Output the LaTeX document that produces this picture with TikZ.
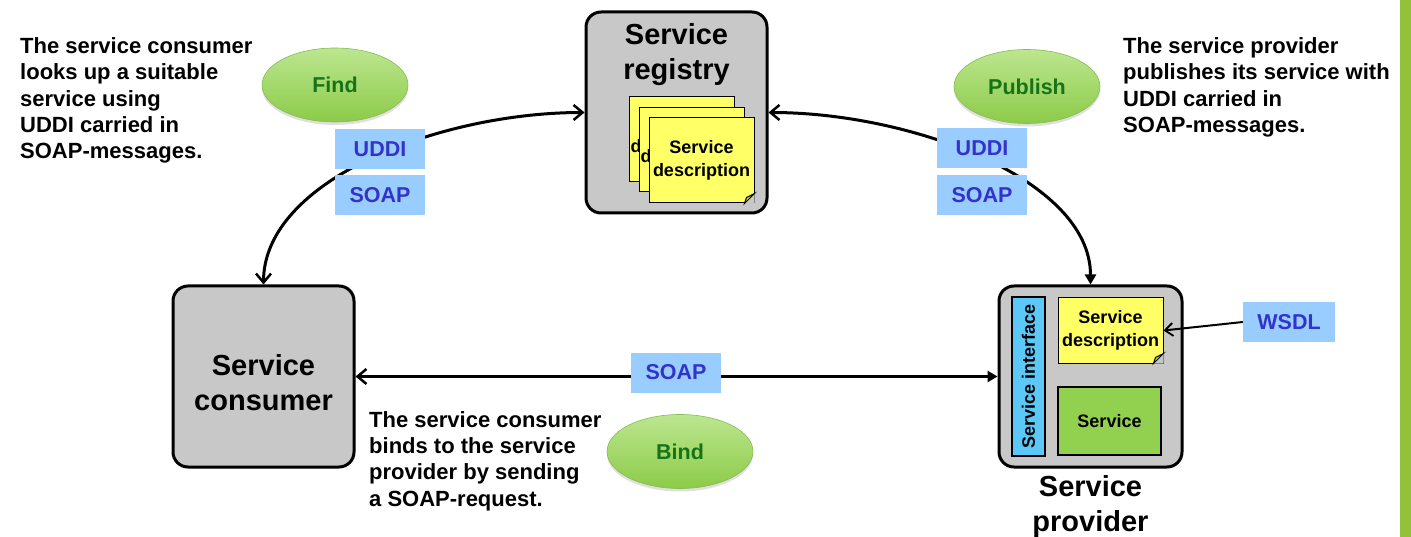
\documentclass[tikz,border=0pt]{standalone}
\usepackage{fontspec}
\setmainfont{Liberation Sans}
\usetikzlibrary{arrows.meta,shadows,shapes.geometric,calc}
\definecolor{boxgray}{HTML}{C8C8C8}
\definecolor{lblue}{HTML}{99CCFF}
\definecolor{tblue}{HTML}{3333CC}
\definecolor{noteyel}{HTML}{FFFF66}
\definecolor{foldyel}{HTML}{D8D840}
\definecolor{ifblue}{HTML}{5CC8F8}
\definecolor{svgreen}{HTML}{92D050}
\definecolor{elltop}{HTML}{BCE690}
\definecolor{ellbot}{HTML}{8CCB48}
\definecolor{elldraw}{HTML}{86BC50}
\definecolor{elltext}{HTML}{177317}
\definecolor{barcol}{HTML}{93C13A}
\tikzset{
  obarb/.tip={Straight Barb[length=9pt,width=15pt,line width=2.5pt]},
  ftri/.tip={Triangle[length=10pt,width=11pt]},
  wbarb/.tip={Straight Barb[length=8pt,width=13pt,line width=1.8pt]}
}
\begin{document}
\begin{tikzpicture}[x=1pt,y=-1pt,
  bigbox/.style={draw=black,line width=3pt,fill=boxgray,rounded corners=15pt,inner sep=0pt},
  bigtext/.style={align=center,inner sep=0pt,font=\fontsize{29}{35}\selectfont\bfseries},
  desc/.style={align=left,inner sep=0pt,anchor=north west,font=\fontsize{22}{26.3}\selectfont\bfseries},
  lbl/.style={fill=lblue,text=tblue,minimum width=90pt,minimum height=40pt,inner sep=0pt,font=\fontsize{21.5}{24}\selectfont\bfseries},
  act/.style={ellipse,top color=elltop,bottom color=ellbot,draw=elldraw,line width=0.6pt,text=elltext,minimum width=146pt,minimum height=74pt,inner sep=0pt,font=\fontsize{21.5}{24}\selectfont\bfseries,drop shadow={shadow xshift=0pt,shadow yshift=-3pt,opacity=0.25}},
  notebox/.style={draw=black,line width=1pt,fill=noteyel,minimum width=105pt,inner sep=0pt,align=center,font=\fontsize{18}{22.5}\selectfont\bfseries},
  notetext/.style={inner sep=0pt,anchor=base west,font=\fontsize{18}{22.5}\selectfont\bfseries},
  conn/.style={line width=3pt}
]
\useasboundingbox (0,0) rectangle (1411,537);
\fill[barcol] (1400,0) rectangle (1411,537);

% main boxes
\node[bigbox,minimum width=181pt,minimum height=201pt] (registry) at (676.5,112.5) {};
\node[bigbox,minimum width=181pt,minimum height=181pt] (consumer) at (263.5,376.5) {};
\node[bigbox,minimum width=183pt,minimum height=181pt] (provider) at (1090.5,376.5) {};

\node[bigtext] (regtext) at (676.5,55) {Service\\registry};
\node[bigtext] (context) at (263.5,383) {Service\\consumer};
\node[bigtext] (provtext) at (1090.5,506) {Service\\provider};

% registry notes (stacked)
\node[notebox,minimum height=85pt] (n1) at (681.5,139.5) {};
\node[notetext] (n1d) at ($(n1.west)+(2,13)$) {description};
\node[notebox,minimum height=84pt] (n2) at (691.5,150) {};
\node[notetext] (n2d) at ($(n2.west)+(2,13)$) {description};
\node[notebox,minimum height=85pt] (n3) at (701.5,160.5) {Service\\description};
\fill[boxgray] (n3.south east) -- ($(n3.south east)+(0,-10)$) -- ($(n3.south east)+(-10,0)$) -- cycle;
\draw[line width=1pt,fill=foldyel] ($(n3.south east)+(0,-10)$) -- ($(n3.south east)+(-8,-6)$) -- ($(n3.south east)+(-10,0)$) -- cycle;

% provider internals
\node[draw=black,line width=2pt,fill=ifblue,rotate=90,minimum width=159pt,minimum height=33pt,inner sep=0pt,font=\fontsize{18}{22}\selectfont\bfseries] (iface) at (1028.5,376.5) {Service interface};
\node[notebox,minimum height=65pt] (pnote) at (1110.5,330.5) {Service\\description};
\fill[boxgray] (pnote.south east) -- ($(pnote.south east)+(0,-10)$) -- ($(pnote.south east)+(-10,0)$) -- cycle;
\draw[line width=1pt,fill=foldyel] ($(pnote.south east)+(0,-10)$) -- ($(pnote.south east)+(-8,-6)$) -- ($(pnote.south east)+(-10,0)$) -- cycle;
\node[draw=black,line width=2pt,fill=svgreen,minimum width=103pt,minimum height=68pt,inner sep=0pt,font=\fontsize{18}{22}\selectfont\bfseries] (service) at (1109.5,421) {Service};

% connectors
\draw[conn,obarb-obarb] (consumer.north) .. controls (263.5,180) and (440,112.5) .. (registry.west);
\draw[conn,obarb-ftri] (registry.east) .. controls (913,112.5) and (1090.5,180) .. (provider.north);
\draw[conn,obarb-ftri] (consumer.east) -- (provider.west);

% labels
\node[lbl] (fuddi) at (380,149) {UDDI};
\node[lbl] (fsoap) at (380,195) {SOAP};
\node[lbl] (puddi) at (982,148.5) {UDDI};
\node[lbl] (psoap) at (982,195.5) {SOAP};
\node[lbl] (bsoap) at (676,372.5) {SOAP};
\node[lbl,minimum width=92pt] (wsdl) at (1289,322) {WSDL};
\draw[line width=2pt,-wbarb] (wsdl.west) -- (pnote.east);

% actions
\node[act] (find) at (335,85) {Find};
\node[act] (publish) at (1027,86.5) {Publish};
\node[act] (bind) at (680,451.5) {Bind};

% descriptions
\node[desc] (dfind) at (20,37.5) {The service consumer\\looks up a suitable\\service using\\UDDI carried in\\SOAP-messages.};
\node[desc] (dpub) at (1123,37.5) {The service provider\\publishes its service with\\UDDI carried in\\SOAP-messages.};
\node[desc] (dbind) at (369,411) {The service consumer\\binds to the service\\provider by sending\\a SOAP-request.};
\end{tikzpicture}
\end{document}
